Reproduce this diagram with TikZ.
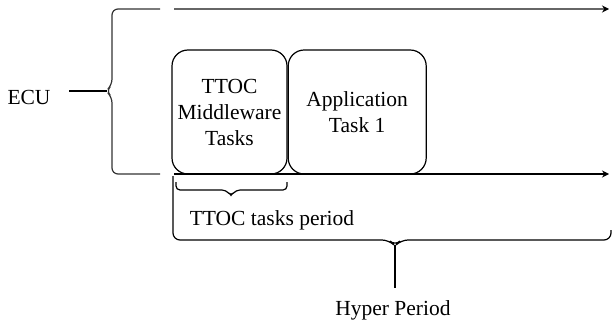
\documentclass[tikz,border=0pt]{standalone}
\usepackage{fontspec}
\setmainfont{Liberation Serif}
\usepackage{tikz}
\usetikzlibrary{arrows.meta, positioning}

\tikzset{
  lbl/.style={font=\fontsize{21.5}{26}\selectfont, inner sep=2pt},
  taskbox/.style={draw, rounded corners=16pt, line width=1.2pt, align=center,
                  font=\fontsize{21.5}{26}\selectfont, inner sep=0pt},
  axis/.style={line width=1.2pt, -{Stealth[length=7pt, width=7pt, black]}},
  brace/.style={line width=1.2pt, rounded corners=6pt}
}

\begin{document}
\begin{tikzpicture}[x=1pt, y=-1pt]
\useasboundingbox (0,0) rectangle (612,329);

% ECU label and its brace
\node[lbl] (ecu) at (29,97) {ECU};
\draw[brace, black!80] (160,9) -- (112,9) -- (112,85) -- (106,91) -- (112,97) -- (112,174) -- (160,174);
\coordinate (ecuTip) at (107,91);
\coordinate (ecuEnd) at (69,91);
\draw[line width=1.2pt] (ecuEnd) -- (ecuTip);

% time lines
\coordinate (topStart) at (174,9);
\coordinate (topEnd) at (609,9);
\coordinate (botStart) at (174,174);
\coordinate (botEnd) at (609,174);
\draw[axis, black!60] (topStart) -- (topEnd);
\draw[axis] (botStart) -- (botEnd);

% tasks
\node[taskbox, minimum width=115pt, minimum height=124pt] (ttoc) at (229.5,112) {TTOC\\Middleware\\Tasks};
\node[taskbox, minimum width=138pt, minimum height=124pt, anchor=west] (app) at (ttoc.east) {Application\\Task 1};

% TTOC tasks period
\draw[brace, rounded corners=4pt] (176,182) -- (176,190) -- (226,190) -- (231,196) -- (236,190) -- (287,190) -- (287,182);
\node[lbl] (ttocPeriod) at (272,220) {TTOC tasks period};

% hyper period
\draw[brace, rounded corners=7pt] (173,176) -- (173,240) -- (389,240) -- (395,246) -- (401,240) -- (611,240) -- (611,230);
\coordinate (hpTip) at (395,245);
\coordinate (hpEnd) at (395,288);
\draw[line width=1.2pt] (hpTip) -- (hpEnd);
\node[lbl] (hyper) at (393,310) {Hyper Period};

\end{tikzpicture}
\end{document}
